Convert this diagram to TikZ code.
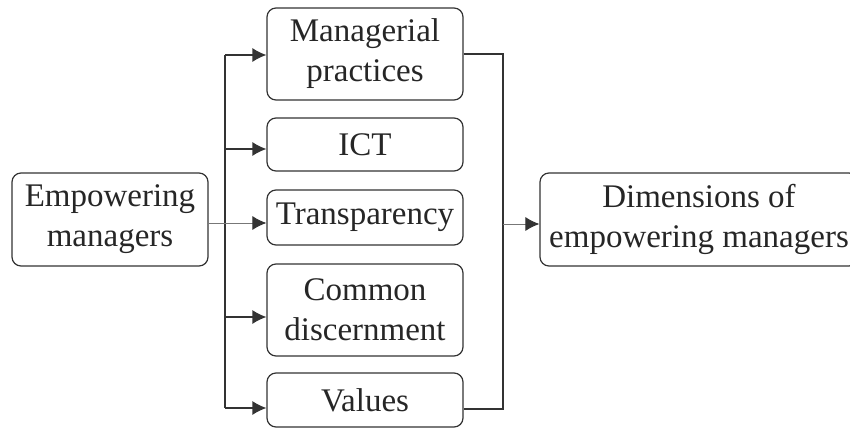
\documentclass[tikz,border=0pt]{standalone}
\usepackage{fontspec}
\setmainfont{Liberation Serif}
\usetikzlibrary{arrows.meta,calc}
\definecolor{ink}{HTML}{262626}
\definecolor{edge}{HTML}{333333}
\definecolor{thin}{HTML}{777777}
\tikzset{
  box/.style={draw=edge, line width=0.6pt, rounded corners=4.5pt, align=center,
    text=ink, inner sep=0pt, font=\fontsize{16.5}{20}\selectfont},
  sidebox/.style={box, minimum width=98pt},
  trunk/.style={draw=edge, line width=0.65pt},
  feed/.style={trunk, -{Latex[length=7pt,width=7pt]}},
  faint/.style={draw=thin, line width=0.45pt, -{Latex[length=7pt,width=7pt,color=edge,fill=edge]}}
}
\begin{document}
\begin{tikzpicture}[x=0.5pt,y=-0.5pt]
\useasboundingbox (0,0) rectangle (850,428);

% source and target
\node[box, minimum width=98pt, minimum height=46.5pt] (emp) at (110,219.5) {Empowering\\managers};
\node[box, minimum width=159pt, minimum height=46.5pt] (dim) at (699,219.5) {Dimensions of\\empowering managers};

% the five dimensions
\node[sidebox, minimum height=46pt]   (mp)  at (365,54)    {Managerial\\practices};
\node[sidebox, minimum height=26.5pt] (ict) at (365,144.5) {ICT};
\node[sidebox, minimum height=27.5pt] (tr)  at (365,217.5) {Transparency};
\node[sidebox, minimum height=46pt]   (cd)  at (365,310)   {Common\\discernment};
\node[sidebox, minimum height=27pt]   (val) at (365,400)   {Values};

% left distribution bus
\coordinate (l1) at (225,55);
\coordinate (l2) at (225,149);
\coordinate (l3) at (225,223);
\coordinate (l4) at (225,317);
\coordinate (l5) at (225,408);
\draw[trunk] (l1) -- (l5);
\draw[feed] (l1) -- (l1 -| mp.west);
\draw[feed] (l2) -- (l2 -| ict.west);
\draw[feed] (l4) -- (l4 -| cd.west);
\draw[feed] (l5) -- (l5 -| val.west);
\draw[faint] (emp.east |- l3) -- (l3 -| tr.west);

% right collecting bus
\coordinate (r1) at (503,54);
\coordinate (r2) at (503,409);
\coordinate (r3) at (503,224);
\draw[trunk] (mp.east |- r1) -- (r1) -- (r2) -- (val.east |- r2);
\draw[faint] (r3) -- (r3 -| dim.west);
\end{tikzpicture}
\end{document}
